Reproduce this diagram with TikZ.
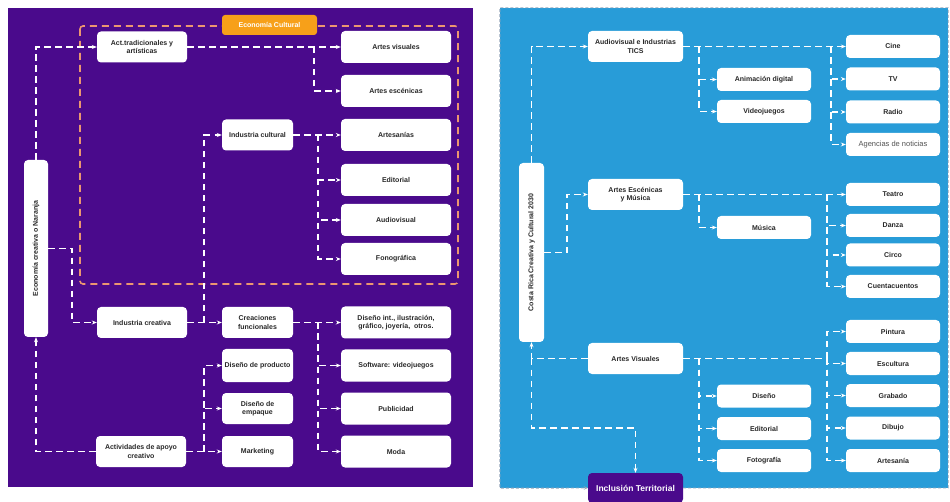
\documentclass[tikz,border=0pt]{standalone}
\usepackage{fontspec}
\setmainfont{Liberation Sans}
\usetikzlibrary{arrows.meta}
\definecolor{colorMorado}{RGB}{74,10,140}
\definecolor{colorAzul}{RGB}{40,156,216}
\definecolor{colorNaranja}{RGB}{247,160,25}
\definecolor{colorMarco}{RGB}{236,150,112}
\definecolor{colorTexto}{RGB}{40,40,40}
\definecolor{colorBorde}{RGB}{150,165,185}
\newcommand\fuenteCaja{\bfseries\fontsize{7}{8.5}\selectfont}
\tikzset{
	caja/.style={fill=white, rounded corners=4pt, align=center, text=colorTexto,
		font=\fuenteCaja, inner sep=1pt},
	cajaL/.style={caja, minimum width=110pt, minimum height=32pt},
	cajaM/.style={caja, minimum width=90pt, minimum height=31pt},
	cajaS/.style={caja, minimum width=71pt, minimum height=31pt},
	cajaR/.style={caja, minimum width=94pt, minimum height=23pt},
	cajaT/.style={caja, minimum width=95pt, minimum height=31pt},
	linea/.style={draw=white, line width=1.2pt, dash pattern=on 6.5pt off 4.5pt},
	flecha/.style={linea, -{Stealth[length=5pt,width=4pt]}},
}

\begin{document}
\begin{tikzpicture}[x=1pt, y=-1pt]
	\useasboundingbox (0,0) rectangle (950,502);
	\fill[white] (0,0) rectangle (950,502);

	% paneles
	\node[fill=colorMorado, minimum width=465pt, minimum height=479pt, inner sep=0pt] (panelA) at (240.5,247.5) {};
	\node[fill=colorAzul, minimum width=448pt, minimum height=480pt, inner sep=0pt] (panelB) at (724,248) {};

	% economia naranja
	\draw[colorMarco, line width=1.6pt, dash pattern=on 7pt off 5pt, rounded corners=3pt]
		(80,26) rectangle (458,284);
	\node[fill=colorNaranja, rounded corners=3pt, minimum width=95pt, minimum height=20pt,
		text=white, font=\fuenteCaja] (ecoCult) at (269.5,25) {Economía Cultural};

	\node[caja, minimum width=24pt, minimum height=177pt] (ecn) at (36,248.5)
		{\rotatebox{90}{Economía creativa o Naranja}};
	\node[cajaM] (act) at (142,47) {Act.tradicionales y\\artísticas};
	\node[cajaS] (icult) at (257.5,135) {Industria cultural};
	\node[cajaM] (icrea) at (142,322.5) {Industria creativa};
	\node[cajaS] (cfun) at (257.5,322.5) {Creaciones\\funcionales};
	\node[cajaS, minimum height=33pt] (dprod) at (257.5,365.5) {Diseño de producto};
	\node[cajaS] (demp) at (257.5,408.5) {Diseño de\\empaque};
	\node[cajaM] (apoyo) at (141,451.5) {Actividades de apoyo\\creativo};
	\node[cajaS] (mkt) at (257.5,451.5) {Marketing};

	\foreach \n/\y/\t in {artVis/47/Artes visuales, artEsc/91/Artes escénicas,
		artes/135/Artesanías, edit/180/Editorial, audio/220/Audiovisual,
		fono/259/Fonográfica, soft/365.5/Software: videojuegos,
		publ/408.5/Publicidad, moda/451.5/Moda}
		\node[cajaL] (\n) at (396,\y) {\t};
	\node[cajaL] (dint) at (396,322.5) {Diseño int., ilustración,\\gráfico, joyería,~ otros.};

	\coordinate (bA) at (314,0);
	\coordinate (bB) at (72,0);
	\coordinate (bC) at (204,0);
	\coordinate (bD) at (318,0);

	\draw[flecha] (ecn.north) |- (act.west);
	\draw[flecha] (act.east) -- (artVis.west);
	\draw[flecha] (act.east -| bA) |- (artEsc.west);
	\draw[flecha] (ecn.east) -- (ecn.east -| bB) |- (icrea.west);
	\draw[flecha] (icrea.east) -- (cfun.west);
	\draw[flecha] (icrea.east -| bC) |- (icult.west);
	\draw[flecha] (icult.east) -- (artes.west);
	\foreach \n in {edit,audio,fono}
		\draw[flecha] (icult.east -| bD) |- (\n.west);
	\draw[flecha] (cfun.east) -- (dint.west);
	\foreach \n in {soft,publ,moda}
		\draw[flecha] (cfun.east -| bD) |- (\n.west);
	\draw[flecha] (apoyo.west) -| (ecn.south);
	\draw[flecha] (apoyo.east) -- (mkt.west);
	\foreach \n in {dprod,demp}
		\draw[flecha] (apoyo.east -| bC) |- (\n.west);

	% costa rica
	\node[caja, minimum width=25pt, minimum height=179pt] (crc) at (531.5,252.5)
		{\rotatebox{90}{Costa Rica Creativa y Cultural 2030}};
	\node[cajaT] (tics) at (635.5,46.5) {Audiovisual e Industrias\\TICS};
	\node[cajaT] (escMus) at (635.5,194.5) {Artes Escénicas\\y Música};
	\node[cajaT] (rVis) at (635.5,358.5) {Artes Visuales};
	\node[caja, fill=colorMorado, text=white, minimum width=95pt, minimum height=30pt,
		font=\bfseries\fontsize{8.5}{10}\selectfont] (incl) at (635.5,488) {Inclusión Territorial};

	\foreach \n/\y/\t in {anim/79.5/Animación digital, vjue/111.5/Videojuegos,
		musica/227.5/Música, dis/396/Diseño, edi2/428.5/Editorial, foto/460.5/Fotografía}
		\node[cajaR] (\n) at (764,\y) {\t};
	\foreach \n/\y/\t in {cine/46.5/Cine, tv/79/TV, radio/112/Radio,
		teatro/194.5/Teatro, danza/225.5/Danza, circo/255/Circo,
		cuenta/286.5/Cuentacuentos, pint/331.5/Pintura, escul/363.5/Escultura,
		grab/395.5/Grabado, dib/428/Dibujo, artsa/460.5/Artesanía}
		\node[cajaR] (\n) at (893,\y) {\t};
	\node[cajaR, font=\fontsize{7.5}{9}\selectfont, text=colorTexto!80] (agen) at (893,144.5)
		{Agencias de noticias};

	\coordinate (cA) at (699,0);
	\coordinate (cB) at (831,0);
	\coordinate (cC) at (567,0);
	\coordinate (cD) at (827,0);
	\coordinate (cE) at (0,428);

	\draw[flecha] (crc.north) |- (tics.west);
	\draw[flecha] (tics.east) -- (cine.west);
	\foreach \n in {anim,vjue}
		\draw[flecha] (tics.east -| cA) |- (\n.west);
	\foreach \n in {tv,radio,agen}
		\draw[flecha] (tics.east -| cB) |- (\n.west);
	\draw[flecha] (crc.east) -- (crc.east -| cC) |- (escMus.west);
	\draw[flecha] (escMus.east) -- (teatro.west);
	\draw[flecha] (escMus.east -| cA) |- (musica.west);
	\foreach \n in {danza,circo,cuenta}
		\draw[flecha] (escMus.east -| cD) |- (\n.west);
	\draw[flecha] (rVis.west) -| (crc.south);
	\draw[flecha] (rVis.west -| crc.south) -- (crc.south |- cE) -| (incl.north);
	\draw[linea] (rVis.east) -- (rVis.east -| cD);
	\foreach \n in {pint,escul,grab,dib,artsa}
		\draw[flecha] (rVis.east -| cD) |- (\n.west);
	\foreach \n in {dis,edi2,foto}
		\draw[flecha] (rVis.east -| cA) |- (\n.west);

	\draw[colorBorde, line width=0.9pt, dash pattern=on 3pt off 2pt, -{Stealth[length=4pt,width=3.5pt]}]
		(incl.east) -| (panelB.north east) -| (panelB.south west) -- (incl.west);
\end{tikzpicture}
\end{document}
